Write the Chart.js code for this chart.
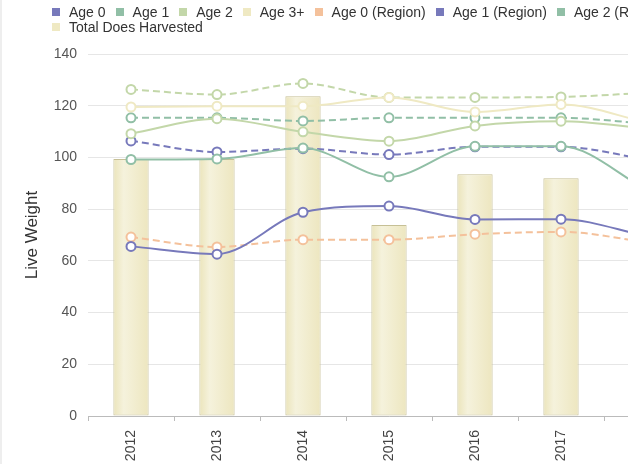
<!DOCTYPE html>
<html>
<head>
<meta charset="utf-8">
<script src="https://cdn.jsdelivr.net/npm/chart.js@4.4.1/dist/chart.umd.min.js"></script>
<style>
  html, body { margin: 0; padding: 0; background: #fff; }
  #wrap { position: relative; width: 628px; height: 464px; overflow: hidden; }
  #edge { position: absolute; left: 0; top: 0; width: 2px; height: 464px; background: #eeeeee; }
  #legend { position: absolute; left: 52px; top: 5px; width: 800px; font: 14px "Liberation Sans", Arial, sans-serif; color: #333; line-height: 15px; }
  .item { display: inline-block; white-space: nowrap; margin-right: 10px; }
  .box { display: inline-block; width: 8px; height: 8px; margin-right: 9px; vertical-align: middle; position: relative; top: -1px; }
  canvas { position: absolute; left: 0; top: 0; }
</style>
</head>
<body>
<div id="wrap">
  <canvas id="chart" width="700" height="470"></canvas>
  <div id="legend"></div>
  <div id="edge"></div>
</div>
<script>
const years = ["2012", "2013", "2014", "2015", "2016", "2017", "2018"];

const age0 = [65.6, 62.6, 78.8, 81.2, 76.0, 76.1, 69.5];
const age1 = [99.2, 99.4, 103.6, 92.5, 104.3, 104.3, 87.5];
const age2 = [109.2, 115.0, 109.9, 106.3, 112.2, 114.0, 111.2];
const age3 = [119.5, 119.8, 119.8, 123.2, 117.6, 120.5, 113.5];
const age0Region = [69.2, 65.4, 68.2, 68.2, 70.3, 71.2, 67.2];
const age1Region = [106.4, 102.1, 103.4, 101.1, 104.1, 104.1, 99.2];
const age2Region = [115.3, 115.3, 114.1, 115.3, 115.3, 115.3, 113.1];
const age3Region = [126.3, 124.3, 128.6, 123.2, 123.2, 123.4, 125.0];
const doesHarvested = [99.4, 99.4, 123.7, 73.9, 93.5, 91.9, null];

const yTicks = [0, 20, 40, 60, 80, 100, 120, 140];

const purple = "#7779bb";
const green = "#91bfa6";
const lightGreen = "#c3d7a9";
const cream = "#efe9c3";
const orange = "#f4c19b";

Chart.defaults.font.family = '"Liberation Sans", Arial, sans-serif';

function lineSet(label, data, color, dashed) {
    return {
        type: "line",
        label: label,
        data: data,
        legendColor: color,
        borderColor: color,
        backgroundColor: color,
        borderWidth: 2,
        borderDash: dashed ? [7, 4] : [],
        pointRadius: 4.5,
        pointBorderWidth: 2,
        pointBackgroundColor: "#ffffff",
        pointBorderColor: color,
        cubicInterpolationMode: "monotone",
        fill: false
    };
}

// horizontal shading across each bar, like the original column gradient
function barFill(context) {
    const chart = context.chart;
    const x = chart.scales.x;
    if (!x || !chart.chartArea) return cream;
    const c = x.getPixelForValue(context.dataIndex);
    const g = chart.ctx.createLinearGradient(c - 18, 0, c + 18, 0);
    g.addColorStop(0, "#ebe4ba");
    g.addColorStop(0.3, "#f5f2dc");
    g.addColorStop(1, "#ede6bf");
    return g;
}

const chart = new Chart(document.getElementById("chart"), {
    type: "bar",
    data: {
        labels: years,
        datasets: [
            lineSet("Age 0", age0, purple, false),
            lineSet("Age 1", age1, green, false),
            lineSet("Age 2", age2, lightGreen, false),
            lineSet("Age 3+", age3, cream, false),
            lineSet("Age 0 (Region)", age0Region, orange, true),
            lineSet("Age 1 (Region)", age1Region, purple, true),
            lineSet("Age 2 (Region)", age2Region, green, true),
            lineSet("Age 3+ (Region)", age3Region, lightGreen, true),
            {
                type: "bar",
                label: "Total Does Harvested",
                data: doesHarvested,
                legendColor: cream,
                backgroundColor: barFill,
                borderColor: "#c6c096",
                borderWidth: 1,
                borderSkipped: false,
                barPercentage: 0.41,
                categoryPercentage: 1
            }
        ]
    },
    options: {
        responsive: false,
        animation: false,
        layout: { padding: { top: 54, right: 10, left: 0, bottom: 0 } },
        plugins: {
            legend: { display: false },
            tooltip: { enabled: false }
        },
        scales: {
            x: {
                grid: { display: true, drawOnChartArea: false, drawTicks: true, tickLength: 5, color: "#bbbbbb", offset: true },
                border: { display: true, color: "#bbbbbb" },
                ticks: { minRotation: 90, maxRotation: 90, padding: 9, color: "#444", font: { size: 14 } },
                afterFit: function(s) { s.height = 54; }
            },
            y: {
                min: 0,
                max: 140,
                afterBuildTicks: function(s) { s.ticks = yTicks.map(v => ({ value: v })); },
                ticks: { padding: 11, color: "#555", font: { size: 14 } },
                grid: { color: "#e6e6e6", drawTicks: false },
                border: { display: false },
                title: { display: true, text: "Live Weight", color: "#333", font: { size: 17 }, padding: { top: 22, bottom: 0 } },
                afterFit: function(s) { s.width = 88; }
            }
        }
    }
});

// legend in html so it can sit where the original had it
const legendEl = document.getElementById("legend");
chart.data.datasets.forEach(ds => {
    const item = document.createElement("span");
    item.className = "item";
    const box = document.createElement("span");
    box.className = "box";
    box.style.background = ds.legendColor;
    item.appendChild(box);
    item.appendChild(document.createTextNode(ds.label));
    legendEl.appendChild(item);
});
</script>
</body>
</html>
